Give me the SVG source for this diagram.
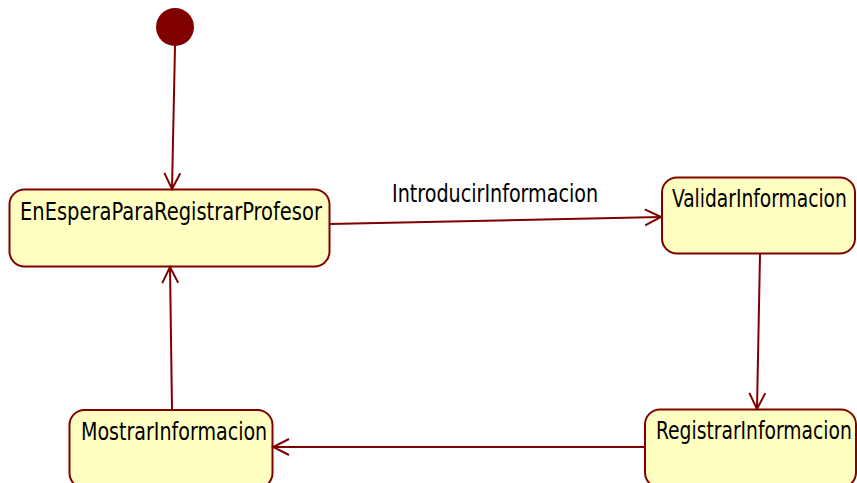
<svg xmlns="http://www.w3.org/2000/svg" width="857" height="483" viewBox="0 0 857 483">
<defs>
<style>
.node{fill:#FFFFC2;stroke:#800000;stroke-width:2}
.lbl{font-family:"DejaVu Sans Condensed","DejaVu Sans",sans-serif;font-size:24px;fill:#000}
.edge{fill:none;stroke:#800000;stroke-width:2}
</style>
<marker id="arr" viewBox="0 0 20 20" refX="18" refY="10" markerWidth="20" markerHeight="20" markerUnits="userSpaceOnUse" orient="auto">
<path d="M2,2 L18,10 L2,18" fill="none" stroke="#800000" stroke-width="2"/>
</marker>
</defs>
<rect width="857" height="483" fill="#fff"/>
<g id="initial"><circle cx="175" cy="27" r="19" fill="#800000"/></g>
<g id="EnEsperaParaRegistrarProfesor">
<rect class="node" x="9.5" y="189.5" width="320" height="77" rx="15"/>
<text class="lbl" transform="translate(20,220) scale(0.87,1)" textLength="347" lengthAdjust="spacingAndGlyphs">EnEsperaParaRegistrarProfesor</text>
</g>
<g id="ValidarInformacion">
<rect class="node" x="662" y="177.5" width="193" height="76" rx="15"/>
<text class="lbl" transform="translate(672,207) scale(0.87,1)" textLength="201" lengthAdjust="spacingAndGlyphs">ValidarInformacion</text>
</g>
<g id="MostrarInformacion">
<rect class="node" x="69.5" y="410" width="203" height="78" rx="15"/>
<text class="lbl" transform="translate(81,440) scale(0.87,1)" textLength="214" lengthAdjust="spacingAndGlyphs">MostrarInformacion</text>
</g>
<g id="RegistrarInformacion">
<rect class="node" x="645" y="409.5" width="211" height="78" rx="15"/>
<text class="lbl" transform="translate(656,439) scale(0.87,1)" textLength="225" lengthAdjust="spacingAndGlyphs">RegistrarInformacion</text>
</g>
<g id="connectors">
<path class="edge" d="M175,46 L172,189" marker-end="url(#arr)"/>
<path class="edge" d="M330,224 L661,217" marker-end="url(#arr)"/>
<text class="lbl" transform="translate(392,202) scale(0.87,1)" textLength="237" lengthAdjust="spacingAndGlyphs">IntroducirInformacion</text>
<path class="edge" d="M760,254 L757,409" marker-end="url(#arr)"/>
<path class="edge" d="M645,447 L273,447" marker-end="url(#arr)"/>
<path class="edge" d="M172,410 L170,267" marker-end="url(#arr)"/>
</g>
</svg>
